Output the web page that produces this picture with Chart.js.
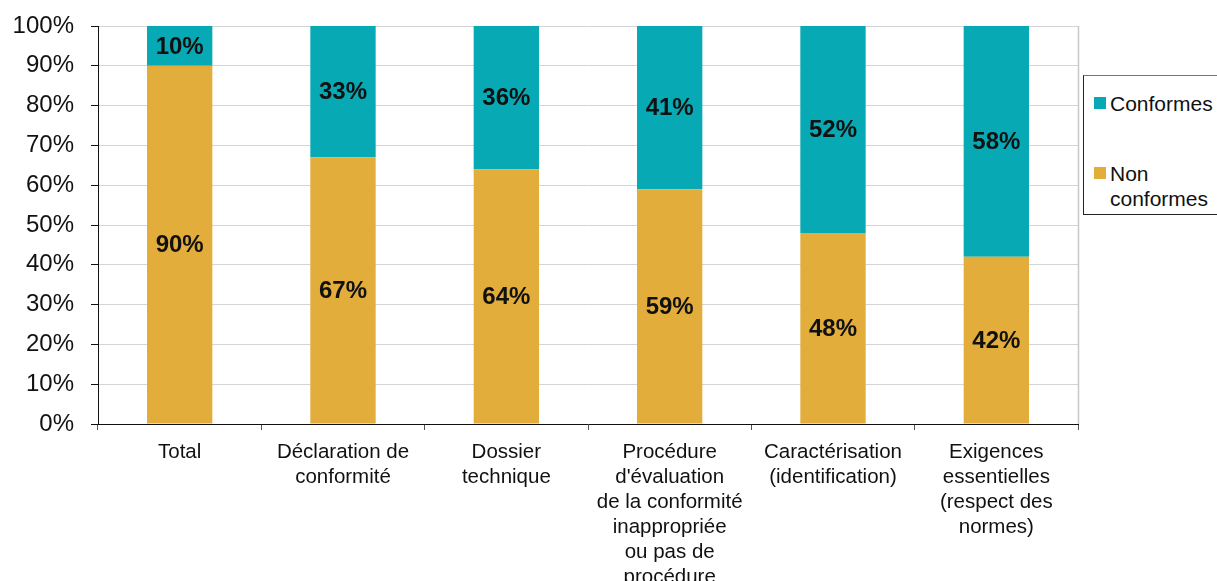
<!DOCTYPE html>
<html lang="fr">
<head>
<meta charset="utf-8">
<title>Conformité des dossiers</title>
<script src="https://cdn.jsdelivr.net/npm/chart.js@4.4.1/dist/chart.umd.min.js"></script>
<style>
  html, body { margin: 0; padding: 0; background: #fff; overflow: hidden; }
  #wrap { position: relative; width: 1217px; height: 581px; }
  #legend {
    position: absolute; left: 1083px; top: 75px; width: 150px; height: 140px;
    border: 1px solid #222; border-top-color: #777; box-sizing: border-box;
    font-family: "Liberation Sans", Arial, sans-serif; font-size: 21px; color: #111;
    background: #fff;
  }
  .item { position: absolute; left: 10px; line-height: 25px; }
  .swatch { position: absolute; left: 0; top: 6px; width: 12px; height: 12px; }
  .txt { margin-left: 16px; }
</style>
</head>
<body>
<div id="wrap">
  <canvas id="chart" width="1217" height="581"></canvas>
  <div id="legend"></div>
</div>
<script>
// Categories (x axis), one entry per bar, split into display lines
const categories = [
  ["Total"],
  ["Déclaration de", "conformité"],
  ["Dossier", "technique"],
  ["Procédure", "d'évaluation", "de la conformité", "inappropriée", "ou pas de", "procédure"],
  ["Caractérisation", "(identification)"],
  ["Exigences", "essentielles", "(respect des", "normes)"]
];

// Share of each category, in percent
const nonConformes = [90, 67, 64, 59, 48, 42];
const conformes    = [10, 33, 36, 41, 52, 58];

const seriesNames = ["Non conformes", "Conformes"];
const yTickValues = [0, 10, 20, 30, 40, 50, 60, 70, 80, 90, 100];

const GOLD = "#E2AD3B";
const TEAL = "#07A9B4";
const FONT = "'Liberation Sans', Arial, sans-serif";

// Writes each segment's value in the middle of its bar part
const valueLabels = {
  id: "valueLabels",
  afterDatasetsDraw(chart) {
    const ctx = chart.ctx;
    ctx.save();
    ctx.font = "bold 24px " + FONT;
    ctx.fillStyle = "#111";
    ctx.textAlign = "center";
    ctx.textBaseline = "middle";
    chart.data.datasets.forEach((ds, i) => {
      chart.getDatasetMeta(i).data.forEach((bar, j) => {
        const p = bar.getProps(["x", "y", "base"], true);
        ctx.fillText(ds.data[j] + "%", p.x, (p.y + p.base) / 2 + 1);
      });
    });
    ctx.restore();
  }
};

// Thin grey frame line on the right side of the plot area
const rightEdge = {
  id: "rightEdge",
  beforeDatasetsDraw(chart) {
    const a = chart.chartArea, ctx = chart.ctx;
    ctx.save();
    ctx.strokeStyle = "#c8c8c8";
    ctx.lineWidth = 1.5;
    ctx.beginPath();
    ctx.moveTo(a.right + 0.5, a.top);
    ctx.lineTo(a.right + 0.5, a.bottom);
    ctx.stroke();
    ctx.restore();
  }
};

const chart = new Chart(document.getElementById("chart"), {
  type: "bar",
  data: {
    labels: categories,
    datasets: [
      { label: seriesNames[0], data: nonConformes, backgroundColor: GOLD, borderWidth: 0 },
      { label: seriesNames[1], data: conformes, backgroundColor: TEAL, borderWidth: 0 }
    ]
  },
  options: {
    responsive: false,
    animation: false,
    layout: { padding: { left: 0, right: 139, top: 26, bottom: 0 } },
    plugins: { legend: { display: false }, tooltip: { enabled: false } },
    datasets: { bar: { categoryPercentage: 0.8, barPercentage: 0.5 } },
    scales: {
      x: {
        stacked: true,
        offset: true,
        grid: { drawOnChartArea: false, offset: true, tickLength: 6, tickColor: "#555" },
        border: { color: "#111", width: 1 },
        ticks: {
          color: "#111",
          font: { family: FONT, size: 20.5, lineHeight: 1.22 },
          padding: 10,
          maxRotation: 0,
          autoSkip: false
        },
        afterFit(s) { s.height = 157; s.paddingLeft = 0; s.paddingRight = 0; }
      },
      y: {
        stacked: true,
        min: 0,
        max: 100,
        afterBuildTicks(s) { s.ticks = yTickValues.map(v => ({ value: v })); },
        grid: { color: "#d4d4d4", tickLength: 7, tickColor: "#111" },
        border: { color: "#111", width: 1 },
        ticks: {
          color: "#111",
          font: { family: FONT, size: 24 },
          padding: 17,
          callback: v => v + "%"
        },
        afterFit(s) { s.width = 98; s.paddingTop = 0; s.paddingBottom = 0; }
      }
    }
  },
  plugins: [valueLabels, rightEdge]
});

// Legend, last series first
const legend = document.getElementById("legend");
const legendTops = [15, 85];
chart.data.datasets.slice().reverse().forEach((ds, k) => {
  const item = document.createElement("div");
  item.className = "item";
  item.style.top = legendTops[k] + "px";
  const sw = document.createElement("div");
  sw.className = "swatch";
  sw.style.background = ds.backgroundColor;
  const tx = document.createElement("div");
  tx.className = "txt";
  tx.innerHTML = k === 0 ? ds.label : ds.label.replace(" ", "<br>");
  item.appendChild(sw);
  item.appendChild(tx);
  legend.appendChild(item);
});
</script>
</body>
</html>
